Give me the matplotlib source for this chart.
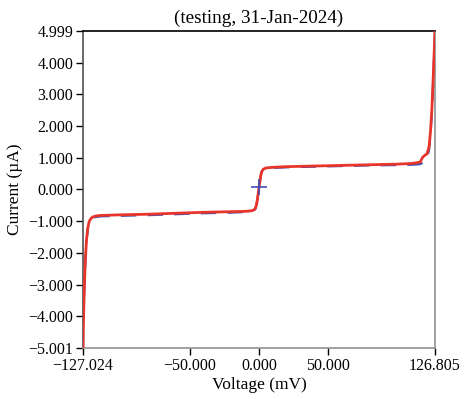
import matplotlib
matplotlib.use("Agg")
import matplotlib.pyplot as plt
import numpy as np

# measured I-V curve (voltage in mV, current in uA)
volt_fit = [-127.024, -126.6, -126.0, -125.3, -124.5, -123.5, -122.5, -121.0, -119.0,
            -115.0, -100.0, -80.0, -60.0, -40.0, -20.0, -10.0, -5.0, -3.0, -2.0, -1.2,
            -0.5, 0.0, 0.5, 1.2, 2.0, 3.0, 5.0, 10.0, 20.0, 40.0, 60.0, 80.0, 100.0,
            110.0, 116.0, 118.0, 119.5, 121.0, 122.5, 123.5, 124.5, 125.3, 126.0, 126.805]
curr_fit = [-5.001, -4.0, -3.0, -2.2, -1.6, -1.2, -1.0, -0.9, -0.85,
            -0.82, -0.80, -0.78, -0.75, -0.72, -0.70, -0.69, -0.67, -0.62, -0.50, -0.30,
            -0.05, 0.10, 0.25, 0.45, 0.58, 0.64, 0.68, 0.70, 0.72, 0.74, 0.76, 0.78, 0.80,
            0.82, 0.86, 1.02, 1.08, 1.12, 1.35, 1.80, 2.50, 3.30, 4.10, 4.999]

volt_meas = [-127.024, -126.6, -126.0, -125.3, -124.5, -123.5, -122.5, -121.0, -119.0,
             -115.0, -100.0, -80.0, -60.0, -40.0, -20.0, -10.0, -5.0, -3.0, -2.0, -1.2,
             -0.5, 0.0, 0.5, 1.2, 2.0, 3.0, 5.0, 10.0, 20.0, 40.0, 60.0, 80.0, 100.0,
             110.0, 116.0, 119.0, 121.0, 122.5, 123.5, 124.5, 125.3, 126.0, 126.805]
curr_meas = [-5.001, -4.05, -3.05, -2.25, -1.62, -1.22, -1.02, -0.93, -0.88,
             -0.85, -0.83, -0.81, -0.78, -0.75, -0.73, -0.71, -0.69, -0.63, -0.50, -0.30,
             -0.05, 0.10, 0.25, 0.45, 0.57, 0.62, 0.66, 0.68, 0.70, 0.72, 0.74, 0.76, 0.77,
             0.78, 0.80, 0.86, 0.98, 1.25, 1.70, 2.40, 3.20, 4.00, 4.999]

zero_v = [0.0]
zero_i = [0.08]

xticks = [-127.024, -50.0, 0.0, 50.0, 126.805]
yticks = [-5.001, -4.0, -3.0, -2.0, -1.0, 0.0, 1.0, 2.0, 3.0, 4.0, 4.999]

plt.rcParams['font.family'] = ['Liberation Serif', 'DejaVu Serif']
plt.rcParams['font.size'] = 11.5

fig = plt.figure(figsize=(4.71, 3.99), dpi=100)
ax = fig.add_axes([0.1762, 0.1278, 0.7474, 0.7945])

ax.plot(volt_meas, curr_meas, color='#3f4fb5', lw=1.6, ls=(0, (7, 5)), zorder=2)
ax.plot(volt_fit, curr_fit, color='#e8352b', lw=2.0, zorder=3)
ax.plot(zero_v, zero_i, marker='+', color='#3f4fb5', ms=12, mew=1.2, ls='none', zorder=4)

ax.set_xlim(-127.024, 126.805)
ax.set_ylim(-5.001, 4.999)
ax.set_xticks(xticks)
ax.set_xticklabels(['\u2212127.024', '\u221250.000', '0.000', '50.000', '126.805'])
ax.set_yticks(yticks)
ax.set_yticklabels([('%.3f' % v).replace('-', '\u2212') for v in yticks])
ax.tick_params(direction='out', length=5, width=1, color='black', pad=2)

ax.spines['top'].set_color('black')
ax.spines['left'].set_color('#505050')
ax.spines['right'].set_color('#909090')
ax.spines['bottom'].set_color('#909090')
for s in ax.spines.values():
    s.set_linewidth(1.2)

ax.set_title('(testing, 31-Jan-2024)', pad=6)
ax.set_xlabel('Voltage (mV)', fontsize=12.5, labelpad=2)
ax.set_ylabel('Current (\u00b5A)', fontsize=12.5, labelpad=4)

fig.savefig('out.png', dpi=100)
